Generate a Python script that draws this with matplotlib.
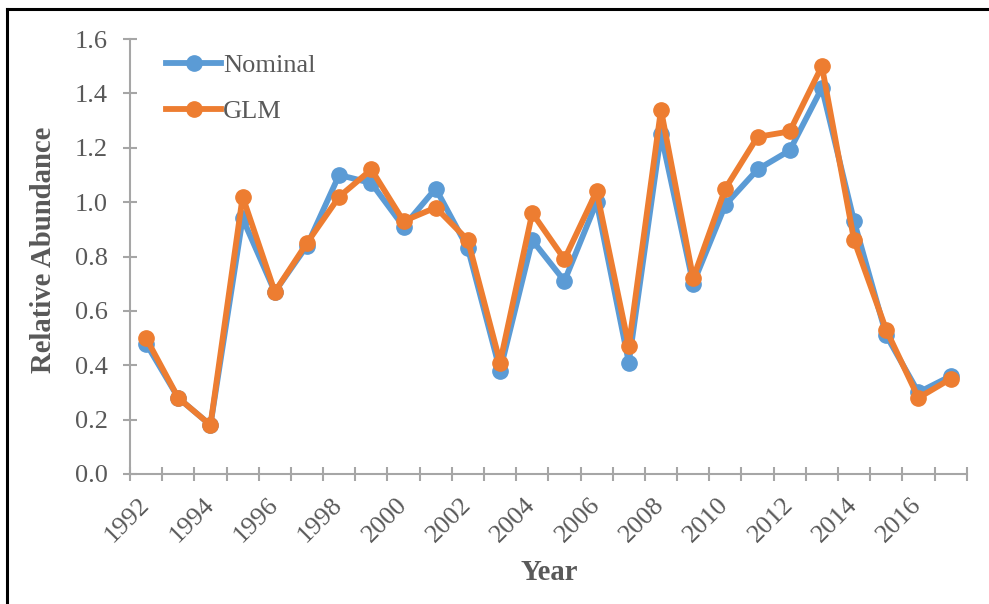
import numpy as np
import matplotlib
matplotlib.use("Agg")
import matplotlib.pyplot as plt
from matplotlib.lines import Line2D

years = list(range(1992, 2018))
nominal = [0.48, 0.28, 0.18, 0.94, 0.67, 0.84, 1.10, 1.07, 0.91, 1.05, 0.83, 0.38, 0.86, 0.71,
           1.00, 0.41, 1.25, 0.70, 0.99, 1.12, 1.19, 1.42, 0.93, 0.51, 0.30, 0.36]
glm = [0.50, 0.28, 0.18, 1.02, 0.67, 0.85, 1.02, 1.12, 0.93, 0.98, 0.86, 0.41, 0.96, 0.79,
       1.04, 0.47, 1.34, 0.72, 1.05, 1.24, 1.26, 1.50, 0.86, 0.53, 0.28, 0.35]
series_names = ["Nominal", "GLM"]
y_ticks = [0.0, 0.2, 0.4, 0.6, 0.8, 1.0, 1.2, 1.4, 1.6]

W, H = 989, 604
fig = plt.figure(figsize=(W / 100, H / 100), dpi=100)
plt.rcParams['font.family'] = ['Liberation Serif', 'DejaVu Serif']

# axes in pixel geometry
x0, x1 = 130, 966.7
ytop, ybot = 39, 474
ax = fig.add_axes([x0 / W, (H - ybot) / H, (x1 - x0) / W, (ybot - ytop) / H])

blue = "#5B9BD5"
orange = "#ED7D31"
grey = "#A6A6A6"
txt = "#595959"

xpos = np.arange(len(years)) + 0.5
ax.plot(xpos, nominal, color=blue, lw=4.2, marker='o', ms=11, label=series_names[0],
        solid_joinstyle='round', zorder=3)
ax.plot(xpos, glm, color=orange, lw=4.2, marker='o', ms=11, label=series_names[1],
        solid_joinstyle='round', zorder=4)

ax.set_xlim(0, len(years))
ax.set_ylim(0, 1.6)

for s in ['top', 'right']:
    ax.spines[s].set_visible(False)
for s in ['left', 'bottom']:
    ax.spines[s].set_color(grey)
    ax.spines[s].set_linewidth(1.5)

ax.set_yticks(y_ticks)
ax.set_yticklabels([f"{v:.1f}" for v in y_ticks])
ax.tick_params(axis='y', direction='inout', length=10, width=1.5, color=grey,
               labelcolor=txt, labelsize=19, pad=11)

ax.set_xticks(np.arange(len(years) + 1))
ax.set_xticklabels([])
ax.tick_params(axis='x', which='major', direction='inout', length=10, width=1.5, color=grey)
ax.set_xticks(xpos, minor=True)
ax.set_xticklabels([str(y) if i % 2 == 0 else "" for i, y in enumerate(years)], minor=True)
ax.tick_params(axis='x', which='minor', length=0, labelcolor=txt, labelsize=19, pad=20)
for lab in ax.get_xticklabels(minor=True):
    lab.set_rotation(45)
    lab.set_ha('right')
    lab.set_va('center')
    lab.set_rotation_mode('anchor')

fig.text(549 / W, 1 - 572 / H, "Year", ha='center', va='center', fontsize=20.7,
         fontweight='bold', color=txt)
fig.text(44 / W, 1 - 250 / H, "Relative Abundance", ha='center', va='center', fontsize=20.7,
         fontweight='bold', color=txt, rotation=90)

leg = ax.legend(loc='upper left', bbox_to_anchor=(166 / W, 1 - 54 / H), bbox_transform=fig.transFigure,
                frameon=False, fontsize=19, handlelength=2.1, handletextpad=0.05,
                labelspacing=0.85, borderaxespad=0, borderpad=0)
for t in leg.get_texts():
    t.set_color(txt)

# outer border (left and top)
fig.add_artist(Line2D([6.5 / W, 6.5 / W], [0, 1 - 9 / H], color='black', lw=2.2,
                      transform=fig.transFigure))
fig.add_artist(Line2D([6.5 / W, 1], [1 - 9 / H, 1 - 9 / H], color='black', lw=2.2,
                      transform=fig.transFigure))

fig.savefig("out.png", dpi=100)
